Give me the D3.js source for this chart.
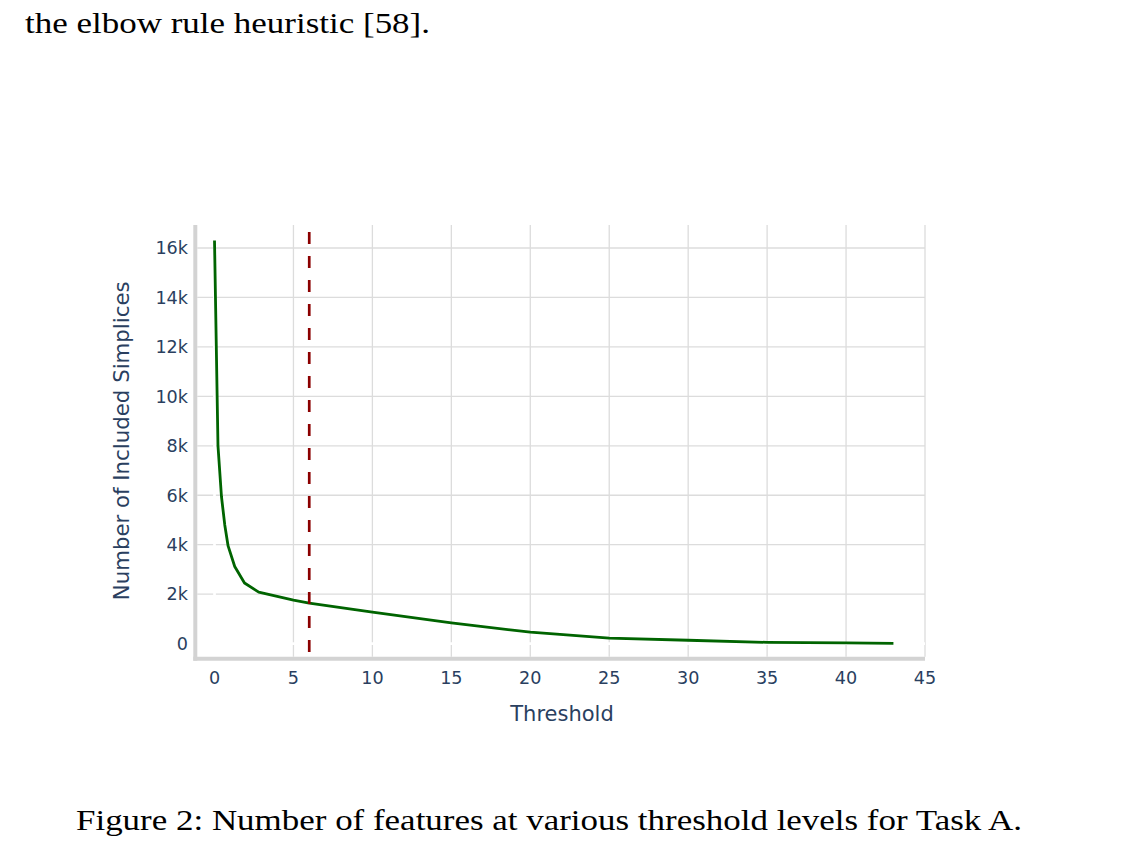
<!DOCTYPE html>
<html>
<head>
<meta charset="utf-8">
<script src="https://cdn.jsdelivr.net/npm/d3@7"></script>
<style>
  body { margin: 0; background: #fff; }
  text { font-family: "DejaVu Sans", Verdana, sans-serif; }
  .latex { font-family: "Liberation Serif", "DejaVu Serif", serif; fill: #000; }
</style>
</head>
<body>
<div id="chart"></div>
<script>
// values
var thresholds = [0, 0.22, 0.44, 0.65, 0.86, 1.28, 1.9, 2.8, 5, 6, 10, 15, 20, 25, 30, 35, 40, 43];
var counts = [16300, 8000, 5950, 4800, 3950, 3120, 2450, 2080, 1760, 1640, 1270, 840, 460, 220, 135, 50, 30, 10];
var cutoff = 6;
var xTicks = [0, 5, 10, 15, 20, 25, 30, 35, 40, 45];
var yTicks = [0, 2000, 4000, 6000, 8000, 10000, 12000, 14000, 16000];

var W = 1123, H = 847;
var plot = { left: 197.3, right: 925, top: 225, bottom: 656.7 };

var svg = d3.select("#chart")
    .append("svg")
        .attr("width", W)
        .attr("height", H);

svg.append("rect").attr("width", W).attr("height", H).attr("fill", "#fff");

// surrounding document text
svg.append("text")
    .attr("class", "latex")
    .attr("x", 25).attr("y", 33)
    .attr("font-size", 29)
    .attr("textLength", 405).attr("lengthAdjust", "spacingAndGlyphs")
    .text("the elbow rule heuristic [58].");

svg.append("text")
    .attr("class", "latex")
    .attr("x", 76).attr("y", 830)
    .attr("font-size", 29)
    .attr("textLength", 946).attr("lengthAdjust", "spacingAndGlyphs")
    .text("Figure 2: Number of features at various threshold levels for Task A.");

var x = d3.scaleLinear()
    .domain([-1.09, 45])
    .range([plot.left, plot.right]);

var y = d3.scaleLinear()
    .domain([-530, 16930])
    .range([plot.bottom, plot.top]);

var tickColor = "#2a3f5f";

// grid
var grid = svg.append("g");
grid.selectAll(".vgrid")
    .data(xTicks.filter(function(d){ return d !== 0; }))
    .enter().append("line")
        .attr("x1", function(d){ return x(d); })
        .attr("x2", function(d){ return x(d); })
        .attr("y1", plot.top).attr("y2", plot.bottom)
        .attr("stroke", "#dcdcdc")
        .attr("stroke-width", 1.3);

grid.selectAll(".hgrid")
    .data(yTicks.filter(function(d){ return d !== 0; }))
    .enter().append("line")
        .attr("y1", function(d){ return y(d); })
        .attr("y2", function(d){ return y(d); })
        .attr("x1", plot.left).attr("x2", plot.right)
        .attr("stroke", "#dcdcdc")
        .attr("stroke-width", 1.3);

// white zero lines
grid.append("line")
    .attr("x1", x(0)).attr("x2", x(0))
    .attr("y1", plot.top).attr("y2", plot.bottom)
    .attr("stroke", "#fff").attr("stroke-width", 2.7);
grid.append("line")
    .attr("x1", plot.left).attr("x2", plot.right)
    .attr("y1", y(0)).attr("y2", y(0))
    .attr("stroke", "#fff").attr("stroke-width", 2.7);

// data line
var line = d3.line()
    .x(function(d, i){ return x(thresholds[i]); })
    .y(function(d){ return y(d); });

svg.append("path")
    .datum(counts)
    .attr("d", line)
    .attr("fill", "none")
    .attr("stroke", "#006400")
    .attr("stroke-width", 2.8)
    .attr("stroke-linejoin", "round");

// threshold marker
svg.append("line")
    .attr("x1", x(cutoff)).attr("x2", x(cutoff))
    .attr("y1", plot.top + 7).attr("y2", plot.bottom)
    .attr("stroke", "#8b0000")
    .attr("stroke-width", 2.7)
    .attr("stroke-dasharray", "12,12");

// axis lines
svg.append("line")
    .attr("x1", plot.left - 2).attr("x2", plot.left - 2)
    .attr("y1", plot.top).attr("y2", plot.bottom + 4)
    .attr("stroke", "#d3d3d3").attr("stroke-width", 4);
svg.append("line")
    .attr("x1", plot.left - 4).attr("x2", plot.right)
    .attr("y1", plot.bottom + 2).attr("y2", plot.bottom + 2)
    .attr("stroke", "#d3d3d3").attr("stroke-width", 4);

// tick labels
svg.append("g").selectAll("text")
    .data(xTicks)
    .enter().append("text")
        .attr("x", function(d){ return x(d); })
        .attr("y", 684)
        .attr("text-anchor", "middle")
        .attr("font-size", 17.6)
        .attr("fill", tickColor)
        .text(function(d){ return d; });

var fmtK = function(d){ return d === 0 ? "0" : (d / 1000) + "k"; };
svg.append("g").selectAll("text")
    .data(yTicks)
    .enter().append("text")
        .attr("x", 188)
        .attr("y", function(d){ return y(d); })
        .attr("dy", "0.36em")
        .attr("text-anchor", "end")
        .attr("font-size", 17.6)
        .attr("fill", tickColor)
        .text(fmtK);

// axis titles
svg.append("text")
    .attr("x", 562).attr("y", 721)
    .attr("text-anchor", "middle")
    .attr("font-size", 21)
    .attr("fill", tickColor)
    .text("Threshold");

svg.append("text")
    .attr("transform", "translate(129," + ((plot.top + plot.bottom) / 2) + ") rotate(-90)")
    .attr("text-anchor", "middle")
    .attr("font-size", 21.3)
    .attr("fill", tickColor)
    .text("Number of Included Simplices");
</script>
</body>
</html>
